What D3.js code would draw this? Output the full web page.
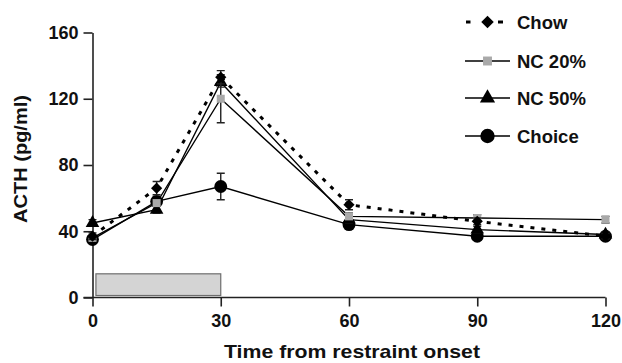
<!DOCTYPE html>
<html>
<head>
<meta charset="utf-8">
<script src="https://cdn.jsdelivr.net/npm/d3@7"></script>
<style>
  html, body { margin: 0; padding: 0; background: #fff; }
  svg text { font-family: "Liberation Sans", Arial, sans-serif; font-weight: bold; fill: #111; }
</style>
</head>
<body>
<svg id="chart" width="622" height="363"></svg>
<script>
// Sampling times (min after restraint onset)
const times = [0, 15, 30, 60, 90, 120];
const xTicks = [0, 30, 60, 90, 120];
const yTicks = [0, 40, 80, 120, 160];

// Mean plasma ACTH (pg/ml) per group
const chow   = [37, 66, 133, 56, 46, 37];
const nc20   = [36, 57, 120, 49, 48, 47];
const nc50   = [45, 53, 130, 47, 41, 38];
const choice = [35, 58, 67, 44, 37, 37];

// SEM per group
const chowErr   = [2, 4, 4, 3, 2, 1.5];
const nc20Err   = [1.5, 2, 14.5, 2, 2, 2];
const nc50Err   = [2, 2, 3, 2, 2, 1.5];
const choiceErr = [2, 3, 8, 2, 2, 1.5];

// Restraint period (min)
const restraint = [0.8, 30];

const groups = [
  { name: "Chow",   values: chow,   err: chowErr,   symbol: d3.symbolDiamond2, size: 80,  fill: "#000", dash: "4,7", width: 3 },
  { name: "NC 20%", values: nc20,   err: nc20Err,   symbol: d3.symbolSquare,   size: 64,  fill: "#a9a9a9", dash: null, width: 1.4 },
  { name: "NC 50%", values: nc50,   err: nc50Err,   symbol: d3.symbolTriangle, size: 80,  fill: "#000", dash: null, width: 1.4 },
  { name: "Choice", values: choice, err: choiceErr, symbol: d3.symbolCircle,   size: 130, fill: "#000", dash: null, width: 1.4 }
];

const svg = d3.select("#chart");
const x = d3.scaleLinear().domain([0, 120]).range([92.5, 605.5]);
const y = d3.scaleLinear().domain([0, 160]).range([297.5, 32.5]);

// Restraint bar
svg.append("rect")
  .attr("x", x(restraint[0])).attr("y", y(14.3))
  .attr("width", x(restraint[1]) - x(restraint[0]))
  .attr("height", y(1.2) - y(14.3))
  .attr("fill", "#d4d4d4").attr("stroke", "#6e6e6e").attr("stroke-width", 1.2);

// Axes
const xAxis = svg.append("g").attr("transform", `translate(0,${y(0)})`)
  .call(d3.axisBottom(x).tickValues(xTicks).tickSize(9).tickPadding(8).tickSizeOuter(0));
const yAxis = svg.append("g").attr("transform", `translate(${x(0)},0)`)
  .call(d3.axisLeft(y).tickValues(yTicks).tickSize(9).tickPadding(5).tickSizeOuter(0));
[xAxis, yAxis].forEach(g => {
  g.selectAll("path, line").attr("stroke", "#222").attr("stroke-width", 1.6);
  g.selectAll("text").style("font-size", "18px").style("font-weight", "bold")
    .style("font-family", "'Liberation Sans', Arial, sans-serif").attr("fill", "#111");
});
xAxis.select(".domain").attr("d", `M${x(0) - 9},0H${x(120)}`);

// Axis titles
svg.append("text").attr("x", 352).attr("y", 358).attr("text-anchor", "middle")
  .attr("textLength", 256).attr("lengthAdjust", "spacingAndGlyphs")
  .style("font-size", "19px").text("Time from restraint onset");
svg.append("text").attr("transform", `translate(27,159) rotate(-90)`)
  .attr("text-anchor", "middle")
  .attr("textLength", 128).attr("lengthAdjust", "spacingAndGlyphs")
  .style("font-size", "19px").text("ACTH (pg/ml)");

const line = d3.line().x((d, i) => x(times[i])).y(d => y(d));

// Lines first, then error bars and markers on top
groups.slice().reverse().forEach(g => {
  svg.append("path").datum(g.values).attr("d", line)
    .attr("fill", "none").attr("stroke", "#000")
    .attr("stroke-width", g.width)
    .attr("stroke-dasharray", g.dash);
});

groups.slice().reverse().forEach(g => {
  const gg = svg.append("g");
  g.values.forEach((v, i) => {
    const cx = x(times[i]);
    const e = g.err[i];
    gg.append("path")
      .attr("d", `M${cx},${y(v - e)}V${y(v + e)}M${cx - 4},${y(v + e)}H${cx + 4}M${cx - 4},${y(v - e)}H${cx + 4}`)
      .attr("stroke", "#222").attr("stroke-width", 1.4).attr("fill", "none");
    gg.append("path")
      .attr("d", d3.symbol().type(g.symbol).size(g.size)())
      .attr("transform", `translate(${cx},${y(v)})`)
      .attr("fill", g.fill);
  });
});

// Legend
const legendY = [22, 61, 98, 136];
groups.forEach((g, i) => {
  const ly = legendY[i];
  const lg = svg.append("g");
  if (g.dash) {
    lg.append("line").attr("x1", 466).attr("x2", 470.5).attr("y1", ly).attr("y2", ly)
      .attr("stroke", "#000").attr("stroke-width", 3);
    lg.append("line").attr("x1", 498).attr("x2", 503).attr("y1", ly).attr("y2", ly)
      .attr("stroke", "#000").attr("stroke-width", 3);
  } else {
    lg.append("line").attr("x1", 465).attr("x2", 510).attr("y1", ly).attr("y2", ly)
      .attr("stroke", "#000").attr("stroke-width", 1.4);
  }
  lg.append("path").attr("d", d3.symbol().type(g.symbol).size(g.size * 1.25)())
    .attr("transform", `translate(487.5,${ly})`).attr("fill", g.fill);
  lg.append("text").attr("x", 517).attr("y", ly + 6.5)
    .style("font-size", "18.5px").text(g.name);
});
</script>
</body>
</html>
